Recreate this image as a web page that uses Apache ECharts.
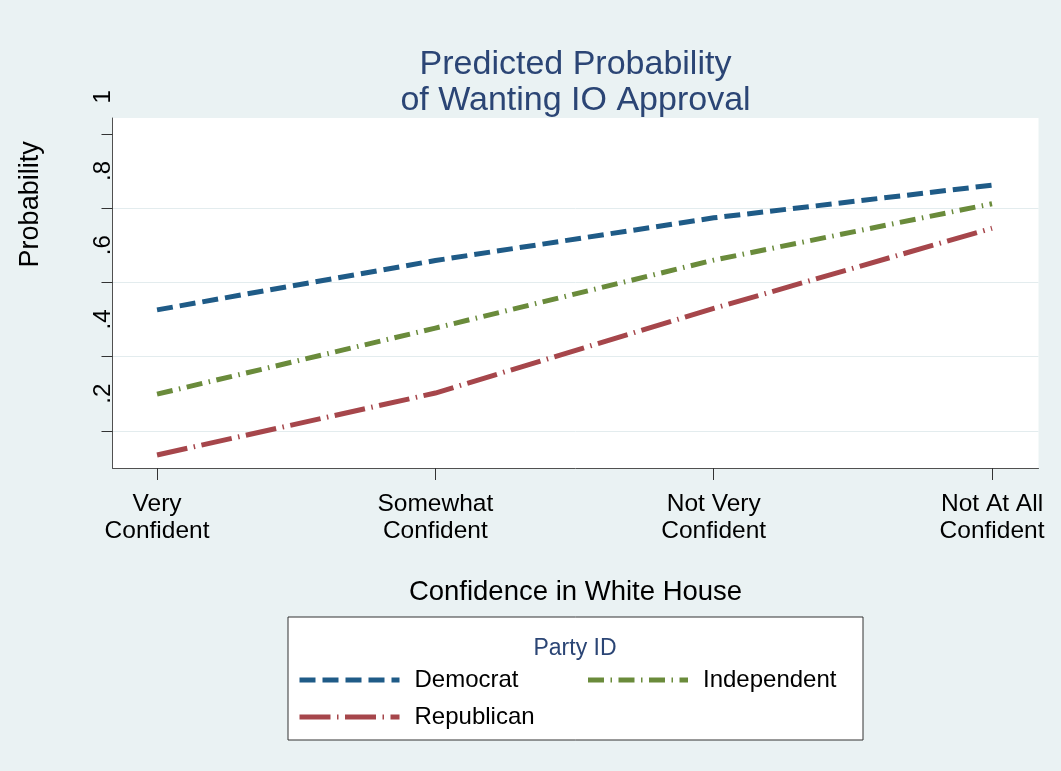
<!DOCTYPE html>
<html><head><meta charset="utf-8">
<script src="https://cdn.jsdelivr.net/npm/echarts@6/dist/echarts.min.js"></script>
<style>html,body{margin:0;padding:0;background:#EAF2F3}#c{width:1061px;height:771px}</style>
</head><body><div id="c"></div>
<script>
// ---- data ----
const categories = ['Very\nConfident', 'Somewhat\nConfident', 'Not Very\nConfident', 'Not At All\nConfident'];
const categoryPositions = [1, 2, 3, 4];
const seriesNames = ['Democrat', 'Independent', 'Republican'];
const democrat = [0.426, 0.559, 0.674, 0.762];
const independent = [0.199, 0.377, 0.560, 0.712];
const republican = [0.035, 0.202, 0.430, 0.646];
const yTickValues = [0.1, 0.3, 0.5, 0.7, 0.9];
const yGridValues = [0.1, 0.3, 0.5, 0.7];
const yLabelStep = 0.2;

const FONT = '"Liberation Sans", Arial, Helvetica, sans-serif';
const colors = ['#1F5B87', '#6A8B3B', '#A6464B'];
const dashes = [[16, 7], [16, 6.5, 1.5, 6.5], [31, 6.5, 1.5, 6.5]];
const values = [democrat, independent, republican];
const legendTextWidths = [158, 138, 158];

const chart = echarts.init(document.getElementById('c'), null, {renderer: 'canvas'});

const series = seriesNames.map((name, i) => ({
  name: name,
  type: 'line',
  xAxisIndex: 0,
  yAxisIndex: 0,
  data: categoryPositions.map((x, j) => [x, values[i][j]]),
  symbol: 'none',
  showSymbol: false,
  silent: true,
  color: colors[i],
  lineStyle: {color: colors[i], width: 5, type: dashes[i], cap: 'butt', join: 'miter'}
}));

const option = {
  animation: false,
  backgroundColor: '#EAF2F3',
  textStyle: {fontFamily: FONT},
  title: [
    {
      text: 'Predicted Probability\nof Wanting IO Approval',
      left: 575.5, top: 47, textAlign: 'center', padding: 0,
      textStyle: {fontFamily: FONT, fontSize: 34, fontWeight: 'normal', color: '#2B4575', lineHeight: 36}
    },
    {
      text: 'Party ID',
      left: 575, top: 637, textAlign: 'center', padding: 0,
      textStyle: {fontFamily: FONT, fontSize: 23, fontWeight: 'normal', color: '#2B4575', lineHeight: 24}
    }
  ],
  grid: [
    {left: 112.5, right: 22.5, top: 118, bottom: 303, show: true, backgroundColor: '#ffffff', borderWidth: 0, outerBoundsMode: 'none', containLabel: false},
    {left: 112.5, right: 22.5, top: 96.75, bottom: 303, show: false, outerBoundsMode: 'none', containLabel: false}
  ],
  xAxis: [
    {
      type: 'value', gridIndex: 0, min: 0.84, max: 4.167,
      axisLine: {show: true, lineStyle: {color: '#505050', width: 1}},
      axisTick: {show: true, length: 12, customValues: categoryPositions, lineStyle: {color: '#333', width: 1}},
      axisLabel: {
        show: true, customValues: categoryPositions, margin: 22.5,
        fontFamily: FONT, fontSize: 24.5, lineHeight: 27, color: '#000',
        formatter: v => categories[categoryPositions.indexOf(v)] || ''
      },
      splitLine: {show: false},
      name: 'Confidence in White House', nameLocation: 'middle', nameGap: 110,
      nameTextStyle: {fontFamily: FONT, fontSize: 27.5, lineHeight: 28, color: '#000'}
    },
    {type: 'value', gridIndex: 1, min: 0, max: 1, show: false}
  ],
  yAxis: [
    {
      type: 'value', gridIndex: 0, min: 0, max: 0.943, position: 'left',
      axisLine: {show: true, lineStyle: {color: '#505050', width: 1}},
      axisTick: {show: true, length: 11, customValues: yTickValues, lineStyle: {color: '#333', width: 1}},
      axisLabel: {show: false},
      splitLine: {show: false}
    },
    {
      type: 'value', gridIndex: 0, min: 0, max: 0.943, position: 'right',
      axisLine: {show: false},
      axisTick: {show: false, customValues: yGridValues},
      axisLabel: {show: false},
      splitLine: {show: true, lineStyle: {color: '#E3ECEE', width: 1}}
    },
    {
      type: 'value', gridIndex: 1, min: 0, max: 1, interval: yLabelStep, position: 'left',
      axisLine: {show: false}, axisTick: {show: false}, splitLine: {show: false},
      axisLabel: {
        show: true, rotate: 90, margin: -2.5,
        fontFamily: FONT, fontSize: 24, lineHeight: 24, color: '#000',
        formatter: v => v === 0 ? '' : (v >= 1 ? '1' : '.' + Math.round(v * 10))
      },
      name: 'Probability', nameLocation: 'middle', nameGap: 68, nameRotate: 90,
      nameTextStyle: {fontFamily: FONT, fontSize: 27, lineHeight: 28, color: '#000', padding: [0, 0, 0, 156]}
    }
  ],
  legend: {
    left: 288, top: 617, orient: 'horizontal', width: 600,
    padding: [51, 22, 11, 9],
    itemWidth: 100, itemHeight: 20, itemGap: 13,
    backgroundColor: '#ffffff', borderColor: '#333333', borderWidth: 1, borderRadius: 0,
    selectedMode: false,
    data: seriesNames.map((n, i) => ({name: n, textStyle: {width: legendTextWidths[i]}})),
    lineStyle: {width: 5},
    itemStyle: {opacity: 0},
    textStyle: {fontFamily: FONT, fontSize: 24, color: '#000', lineHeight: 20, padding: [0, 0, 0, 10]}
  },
  series: series
};
chart.setOption(option);
</script>
</body></html>
